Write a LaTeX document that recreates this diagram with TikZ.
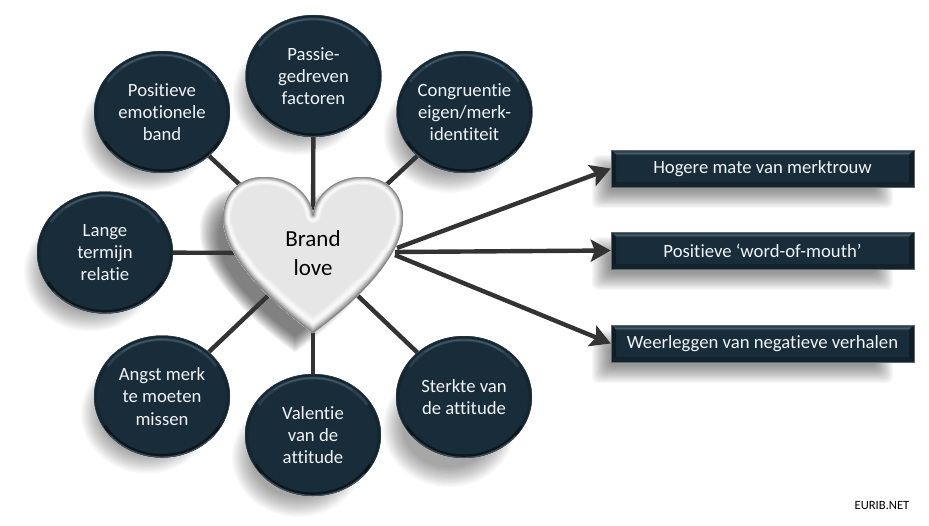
\documentclass[tikz,border=0pt]{standalone}
\usepackage{fontspec}
\setmainfont[Ligatures=NoCommon]{Carlito}
\usetikzlibrary{shapes.geometric,arrows.meta,backgrounds}
\definecolor{navy}{HTML}{182C39}
\definecolor{navyrim}{HTML}{142632}
\definecolor{navyhi}{HTML}{465E6C}
\definecolor{linecol}{HTML}{333333}
\definecolor{txt}{HTML}{F0F4F6}
\definecolor{hbody}{HTML}{E6E6E6}
\tikzset{
  x=1pt,y=-1pt,
  oval/.style={ellipse,inner sep=0pt,minimum width=136pt,minimum height=122pt,text=txt,align=center,font=\fontsize{18.7}{22.3}\selectfont},
  bar/.style={rectangle,inner sep=0pt,minimum width=303pt,minimum height=37pt,text=txt,align=center,font=\fontsize{18.7}{22}\selectfont},
  love/.style={inner sep=0pt,align=center,text=black,font=\fontsize{23}{29}\selectfont},
  link/.style={draw=linecol,line width=4.4pt},
  flow/.style={draw=linecol,line width=4.4pt,-{Stealth[length=20pt,width=22pt,inset=4pt]}},
}
% bevelled oval: centre x, y
\newcommand{\ovalface}[2]{
  \fill[navy] (#1,#2) ellipse [x radius=68,y radius=61];
  \begin{scope}
    \clip (#1,#2) ellipse [x radius=68,y radius=61];
    \draw[navyrim,line width=7pt] (#1,#2) ellipse [x radius=68,y radius=61];
    \draw[navyhi!40!navy,line width=3pt] (#1,#2) ++(212:64 and 57) arc [start angle=212,end angle=328,x radius=64,y radius=57];
    \draw[navyhi!90!navy,line width=1.2pt] (#1,#2) ++(232:64 and 57) arc [start angle=232,end angle=308,x radius=64,y radius=57];
    \draw[black!50!navy,line width=3pt] (#1,#2) ++(30:66 and 59) arc [start angle=30,end angle=150,x radius=66,y radius=59];
    \draw[navyhi!60!navy,line width=1.2pt] (#1,#2) ++(40:67.4 and 60.4) arc [start angle=40,end angle=140,x radius=67.4,y radius=60.4];
    \draw[gray!80!navy,line width=.7pt,opacity=.45] (#1,#2) ellipse [x radius=68,y radius=61];
  \end{scope}
}
% soft oval shadow: centre x, y, dy below the oval
\newcommand{\ovalshade}[3]{
  \foreach \k in {0,...,15}{
    \pgfmathsetmacro{\rx}{66-\k*1.3}
    \pgfmathsetmacro{\ry}{60-\k*1.3}
    \fill[black,opacity=.025] (#1-15,#2+#3+1) ellipse [x radius=\rx,y radius=\ry];
  }
}
% bevelled bar: top y
\newcommand{\barface}[1]{
  \fill[navy] (611,#1) rectangle (914,#1+37);
  \fill[navyhi!40!navy] (611,#1) -- (914,#1) -- (909,#1+5) -- (616,#1+5) -- cycle;
  \fill[navyhi] (614,#1+2.5) -- (911,#1+2.5) -- (910,#1+4) -- (615,#1+4) -- cycle;
  \fill[black!35!navy] (611,#1) -- (616,#1+5) -- (616,#1+32) -- (611,#1+37) -- cycle;
  \fill[black!35!navy] (914,#1) -- (909,#1+5) -- (909,#1+32) -- (914,#1+37) -- cycle;
  \fill[black!20!navy] (611,#1+37) -- (616,#1+32) -- (909,#1+32) -- (914,#1+37) -- cycle;
  \draw[gray!70!navy,line width=.8pt] (611,#1) rectangle (914,#1+37);
}
\newcommand{\barshade}[1]{
  \foreach \k in {0,...,14}{
    \fill[black,opacity=.03,rounded corners=6pt] (592+\k*1.2,#1+5+\k*1.2) rectangle (893-\k*1.2,#1+58-\k*1.2);
  }
}
\newcommand{\heartcurve}{(313,215) .. controls (315,195) and (335,177) .. (362,177) .. controls (388,177) and (403,195) .. (403,218) .. controls (403,256) and (356,302) .. (313,333) .. controls (270,302) and (223,256) .. (223,218) .. controls (223,195) and (238,177) .. (264,177) .. controls (291,177) and (311,195) .. (313,215) -- cycle}
\begin{document}
\begin{tikzpicture}
\useasboundingbox (0,0) rectangle (929,525);

% faces
\foreach \cx/\cy in {162/112,313.5/76,464.5/112,105/252.5,162/396.5,313/435,464/397}{\ovalface{\cx}{\cy}}
\foreach \ty in {150,232,325}{\barface{\ty}}

% heart
\fill[hbody] \heartcurve;
\foreach \ya/\yb/\fa in {170/225/.62,225/250/.72,250/280/.86,280/340/1}{
  \begin{scope}
    \clip \heartcurve;
    \clip (215,\ya) rectangle (410,\yb);
    \foreach \w/\g in {26/.93,22/.96,18/.98,15/.95,12/.90,10/.84,8/.77,6/.70,4/.62,2/.52}{
      \definecolor{hring}{gray}{\g}
      \pgfmathsetmacro{\lw}{\w*\fa}
      \draw[hring,line width=\lw pt,line join=round] \heartcurve;
    }
  \end{scope}
}

% nodes
\node[love] (heart) at (313,253) {Brand\\love};
\coordinate (heartout1) at (397,248);
\coordinate (heartout2) at (395,252);
\coordinate (heartout3) at (395,255);
\node[oval] (emo) at (162,112) {Positieve\\emotionele\\band};
\node[oval] (pas) at (313.5,76) {Passie-\\gedreven\\factoren};
\node[oval] (con) at (464.5,112) {Congruentie\\eigen/merk-\\identiteit};
\node[oval] (lan) at (105,252.5) {Lange\\termijn\\relatie};
\node[oval] (ang) at (162,396.5) {Angst merk\\te moeten\\missen};
\node[oval] (val) at (313,435) {Valentie\\van de\\attitude};
\node[oval] (ste) at (464,397) {Sterkte van\\de attitude};
\node[bar] (trouw) at (762.5,168.5) {Hogere mate van merktrouw};
\node[bar] (mouth) at (762.5,250.5) {Positieve ‘word-of-mouth’};
\node[bar] (verh) at (762.5,343.5) {Weerleggen van negatieve verhalen};
\node[inner sep=0pt,font=\fontsize{12.6}{14}\selectfont] (eurib) at (882,505) {EURIB.NET};

\begin{pgfonlayer}{background}
  \fill[white] (0,0) rectangle (929,525);
  \ovalshade{162}{112}{18}
  \ovalshade{313.5}{76}{18}
  \ovalshade{464.5}{112}{20}
  \ovalshade{105}{252.5}{18}
  \ovalshade{162}{396.5}{16}
  \ovalshade{313}{435}{21}
  \ovalshade{464}{397}{29}
  \barshade{150}
  \barshade{232}
  \barshade{325}
  \foreach \k in {0,...,15}{
    \pgfmathsetmacro{\sc}{1.06-\k*.014}
    \begin{scope}[shift={(295,270)},scale=\sc,shift={(-313,-255)}]
      \fill[black,opacity=.04] \heartcurve;
    \end{scope}
  }
  \draw[link] (heart.center) -- (emo);
  \draw[link] (heart.center) -- (pas);
  \draw[link] (heart.center) -- (con);
  \draw[link] (heart.center) -- (lan);
  \draw[link] (heart.center) -- (ang);
  \draw[link] (heart.center) -- (val);
  \draw[link] (heart.center) -- (ste);
  \draw[flow] (heartout1) -- (trouw.west);
  \draw[flow] (heartout2) -- (mouth.west);
  \draw[flow] (heartout3) -- (verh.west);
\end{pgfonlayer}
\end{tikzpicture}
\end{document}
